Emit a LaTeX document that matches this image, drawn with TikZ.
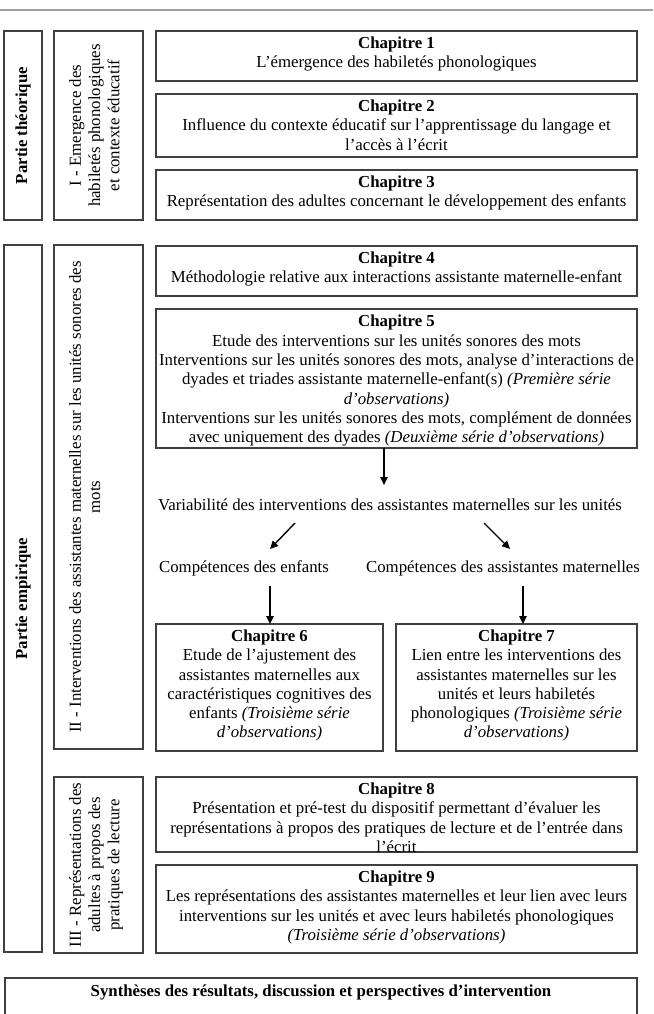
\documentclass[tikz,border=0pt]{standalone}
\usepackage{fontspec}
\setmainfont{Liberation Serif}
\usetikzlibrary{arrows.meta,calc}
\definecolor{boxgray}{HTML}{404040}
\definecolor{linegray}{HTML}{A0A0A0}
\tikzset{
  frame/.style={draw=boxgray, line width=1.2pt, inner sep=0pt, outer sep=0pt, anchor=north west},
  txt/.style={inner sep=0pt, align=center, font=\fontsize{16.8}{19.3}\selectfont},
  vtxt/.style={txt, rotate=90, anchor=north},
  arr/.style={line width=1.4pt, -{Triangle[length=8pt,width=7.5pt]}},
}
\begin{document}
\begin{tikzpicture}[x=1pt,y=-1pt]
\useasboundingbox (0,0) rectangle (653,1014);
\draw[linegray, line width=1.4pt] (0,10) -- (653,10);

% Partie theorique
\node[frame, minimum width=38, minimum height=189] (pt) at (4,31) {};
\node[txt, rotate=90] (ptt) at (pt.center) {\textbf{Partie théorique}};
\node[frame, minimum width=89, minimum height=189] (r1) at (54,31) {};
\node[vtxt] (r1t) at (69,125.5) {I - Emergence des\\habiletés phonologiques\\et contexte éducatif};

\node[frame, minimum width=481, minimum height=50] (c1) at (156,31) {};
\node[txt, anchor=north] (c1t) at ([yshift=-5.6pt]c1.north) {\textbf{Chapitre 1}\\L’émergence des habiletés phonologiques};
\node[frame, minimum width=481, minimum height=63] (c2) at (156,94) {};
\node[txt, anchor=north] (c2t) at ([yshift=-5.6pt]c2.north) {\textbf{Chapitre 2}\\Influence du contexte éducatif sur l’apprentissage du langage et\\l’accès à l’écrit};
\node[frame, minimum width=481, minimum height=50] (c3) at (156,170) {};
\node[txt, anchor=north] (c3t) at ([yshift=-5.6pt]c3.north) {\textbf{Chapitre 3}\\Représentation des adultes concernant le développement des enfants};

% Partie empirique
\node[frame, minimum width=38, minimum height=707] (pe) at (4,245) {};
\node[txt, rotate=90] (pet) at (pe.center) {\textbf{Partie empirique}};
\node[frame, minimum width=89, minimum height=504] (r2) at (54,245) {};
\node[vtxt] (r2t) at (69,497) {II - Interventions des assistantes maternelles sur les unités sonores des\\mots};

\node[frame, minimum width=481, minimum height=50] (c4) at (156,246) {};
\node[txt, anchor=north] (c4t) at ([yshift=-5.6pt]c4.north) {\textbf{Chapitre 4}\\Méthodologie relative aux interactions assistante maternelle-enfant};
\node[frame, minimum width=481, minimum height=139] (c5) at (156,309) {};
\node[txt, anchor=north] (c5t) at ([yshift=-6pt]c5.north) {\textbf{Chapitre 5}\\Etude des interventions sur les unités sonores des mots\\Interventions sur les unités sonores des mots, analyse d’interactions de\\dyades et triades assistante maternelle-enfant(s) \textit{(Première série}\\\textit{d’observations)}\\Interventions sur les unités sonores des mots, complément de données\\avec uniquement des dyades \textit{(Deuxième série d’observations)}};

\node[txt] (var) at (390,505) {Variabilité des interventions des assistantes maternelles sur les unités};
\node[txt] (ce) at (244,568) {Compétences des enfants};
\node[txt] (ca) at (503,568) {Compétences des assistantes maternelles};

\node[frame, minimum width=227, minimum height=127] (c6) at (156,624) {};
\node[txt, anchor=north] (c6t) at ([yshift=-5.6pt]c6.north) {\textbf{Chapitre 6}\\Etude de l’ajustement des\\assistantes maternelles aux\\caractéristiques cognitives des\\enfants \textit{(Troisième série}\\\textit{d’observations)}};
\node[frame, minimum width=241, minimum height=127] (c7) at (396,624) {};
\node[txt, anchor=north] (c7t) at ([yshift=-5.6pt]c7.north) {\textbf{Chapitre 7}\\Lien entre les interventions des\\assistantes maternelles sur les\\unités et leurs habiletés\\phonologiques \textit{(Troisième série}\\\textit{d’observations)}};

\coordinate (a0) at (384,485);
\coordinate (d1s) at (295,523);
\coordinate (d1e) at (270,549);
\coordinate (d2s) at (484,523);
\coordinate (d2e) at (510,549);
\coordinate (e1s) at (270,586);
\coordinate (e2s) at (523,586);
\draw[arr] (c5.south -| a0) -- (a0);
\draw[arr] (d1s) -- (d1e);
\draw[arr] (d2s) -- (d2e);
\draw[arr] (e1s) -- (c6.north -| e1s);
\draw[arr] (e2s) -- (c7.north -| e2s);

\node[frame, minimum width=89, minimum height=176] (r3) at (54,777) {};
\node[vtxt] (r3t) at (69,865) {III - Représentations des\\adultes à propos des\\pratiques de lecture};
\node[frame, minimum width=481, minimum height=75] (c8) at (156,777) {};
\node[txt, anchor=north] (c8t) at ([yshift=-5.6pt]c8.north) {\textbf{Chapitre 8}\\Présentation et pré-test du dispositif permettant d’évaluer les\\représentations à propos des pratiques de lecture et de l’entrée dans\\l’écrit};
\node[frame, minimum width=481, minimum height=88] (c9) at (156,865) {};
\node[txt, anchor=north] (c9t) at ([yshift=-5.6pt]c9.north) {\textbf{Chapitre 9}\\Les représentations des assistantes maternelles et leur lien avec leurs\\interventions sur les unités et avec leurs habiletés phonologiques\\\textit{(Troisième série d’observations)}};

\node[frame, minimum width=632, minimum height=60] (syn) at (5,978) {};
\node[txt] (synt) at (321,992) {\textbf{Synthèses des résultats, discussion et perspectives d’intervention}};
\end{tikzpicture}
\end{document}
